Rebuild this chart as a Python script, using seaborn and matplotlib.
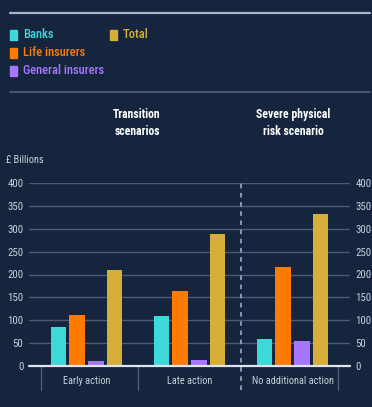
import matplotlib
matplotlib.use("Agg")
import matplotlib.pyplot as plt
from matplotlib.patches import Rectangle
from matplotlib.lines import Line2D
import pandas as pd
import seaborn as sns

scenarios = ["Early action", "Late action", "No additional action"]
sectors = ["Banks", "Life insurers", "General insurers", "Total"]
banks = [86, 110, 60]
life_insurers = [112, 165, 217]
general_insurers = [12, 13, 55]
total = [210, 289, 333]
yticks = [0, 50, 100, 150, 200, 250, 300, 350, 400]

BG = "#14253d"
TXT = "#c9d0da"
colors = {"Banks": "#3fd8d8", "Life insurers": "#ff7a00",
          "General insurers": "#a676ff", "Total": "#d6ae38"}

df = pd.DataFrame({
    "scenario": scenarios * 4,
    "sector": [s for s in sectors for _ in scenarios],
    "value": banks + life_insurers + general_insurers + total,
})

sns.set_theme(style="dark")
plt.rcParams["font.family"] = ["Roboto Condensed", "Archivo Narrow", "DejaVu Sans"]

fig = plt.figure(figsize=(3.72, 4.07), dpi=100, facecolor=BG)
W, H = 372, 407
ax = fig.add_axes([29 / W, 41 / H, 321 / W, 183 / H], facecolor=BG)

sns.barplot(data=df, x="scenario", y="value", hue="sector", order=scenarios,
            hue_order=sectors, palette=colors, width=0.735, gap=0.2,
            saturation=1, legend=False, ax=ax, zorder=3, linewidth=0)

ax.set_ylim(0, 400)
ax.set_xlim(-0.558, 2.558)
ax.set_yticks(yticks)
ax.set_yticklabels([str(v) for v in yticks])
ax.set_xlabel("")
ax.set_ylabel("")
for s in ax.spines.values():
    s.set_visible(False)
ax.yaxis.grid(True, color="#4a5b73", lw=1)
ax.xaxis.grid(False)
ax.set_axisbelow(True)
ax.tick_params(axis="y", left=False, right=False, labelleft=True,
               labelright=True, labelsize=7.8, labelcolor=TXT, pad=4,
               length=0)
ax.tick_params(axis="x", bottom=False, labelsize=7.4, labelcolor=TXT, pad=7.5,
               length=0)

# baseline
ax.axhline(0, color="#dfe5ec", lw=1.6, zorder=4, clip_on=False)
# category dividers below the axis
for xv in (-0.44, 0.5, 2.44):
    ax.axvline(xv, ymin=-0.13, ymax=0, color="#52627a", lw=0.9, clip_on=False)
# dashed separator between transition and physical-risk scenarios
ax.axvline(1.5, ymin=-0.13, ymax=1.0, color="#aab6c6", lw=1.1,
           ls=(0, (3, 3)), clip_on=False, zorder=2)

# header rules
fig.add_artist(Line2D([10 / W, 370 / W], [1 - 13 / H, 1 - 13 / H],
                      color="#a9b5c6", lw=1.6))
fig.add_artist(Line2D([10 / W, 370 / W], [1 - 92 / H, 1 - 92 / H],
                      color="#4a5a70", lw=1.4))

# legend
leg = [("Banks", 10, 35), ("Life insurers", 10, 53),
       ("General insurers", 10, 71), ("Total", 110, 35)]
for name, x0, yc in leg:
    fig.add_artist(Rectangle((x0 / W, 1 - (yc + 5) / H), 7 / W, 10 / H,
                             color=colors[name], transform=fig.transFigure))
    fig.text((x0 + 13) / W, 1 - yc / H, name, color=colors[name],
             fontsize=9, fontweight="medium", va="center", ha="left")

# panel headings
fig.text(137 / W, 1 - 123 / H, "Transition\nscenarios", color="white",
         fontsize=8.5, fontweight="bold", ha="center", va="center",
         linespacing=1.35)
fig.text(293 / W, 1 - 123 / H, "Severe physical\nrisk scenario",
         color="white", fontsize=8.5, fontweight="bold", ha="center",
         va="center", linespacing=1.35)
fig.text(6 / W, 1 - 160 / H, "£ Billions", color=TXT, fontsize=7.5,
         ha="left", va="center")

fig.savefig("out.png", dpi=100, facecolor=BG)
